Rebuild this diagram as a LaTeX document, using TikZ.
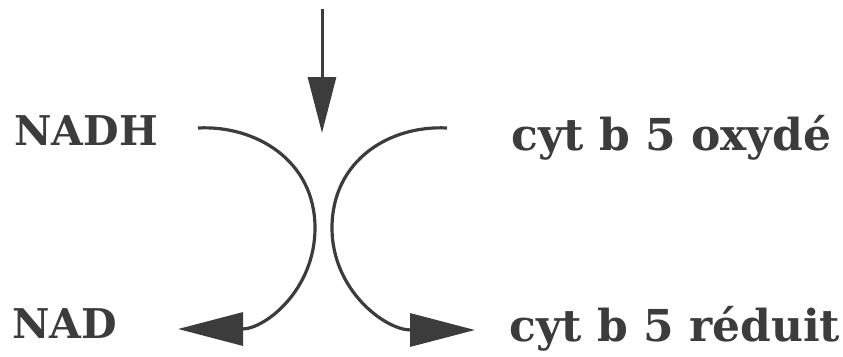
\documentclass[tikz,border=0pt]{standalone}
\usepackage{fontspec}
\setmainfont{DejaVu Serif}
\usetikzlibrary{arrows.meta}
\definecolor{ink}{HTML}{3c3c3c}
\tikzset{
  lbl/.style={anchor=base west, inner sep=0pt, font=\bfseries\fontsize{41}{41}\selectfont, text=ink},
  lblc/.style={lbl, font=\bfseries\fontsize{44}{44}\selectfont},
  flow/.style={draw=ink, line width=3.2pt, -{Triangle[length=65pt,width=33pt]}},
}
\begin{document}
\begin{tikzpicture}[x=1pt,y=-1pt]
\useasboundingbox (0,0) rectangle (843,356);
\node[lbl] (nadh) at (14,145) {NADH};
\node[lbl] (nad) at (12,338) {NAD};
\node[lblc] (ox) at (511,150) {cyt b 5 oxydé};
\node[lblc] (red) at (509,341) {cyt b 5 réduit};
\coordinate (top) at (322,9);
\coordinate (mid) at (322,133);
\coordinate (ls) at (198,128);
\coordinate (lm) at (315,228);
\coordinate (le) at (178,329);
\coordinate (rs) at (447,128);
\coordinate (rm) at (332,228);
\coordinate (re) at (475,330);
\draw[draw=ink, line width=3pt, -{Triangle[length=56pt,width=28pt]}] (top) -- (mid);
\draw[flow] (ls) .. controls (255,125) and (315,160) .. (lm)
                 .. controls (315,290) and (265,329) .. (le);
\draw[flow] (rs) .. controls (390,125) and (332,160) .. (rm)
                 .. controls (332,290) and (385,330) .. (re);
\end{tikzpicture}
\end{document}
